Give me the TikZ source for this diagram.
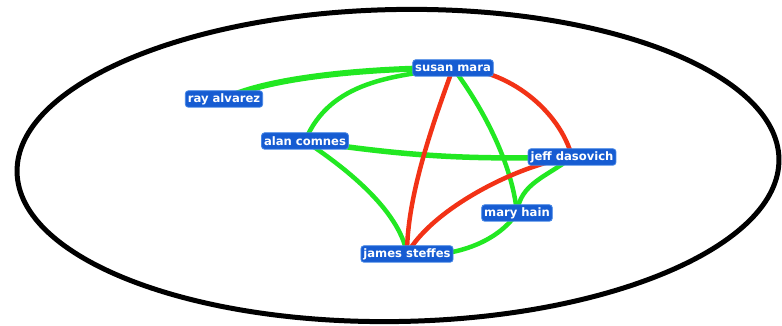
\documentclass[tikz,border=0pt]{standalone}
\usepackage{fontspec}
\newfontfamily\nodefont{DejaVu Sans}
\usetikzlibrary{backgrounds}
\definecolor{nodeblue}{RGB}{22,92,210}
\definecolor{nodeedge}{RGB}{70,135,230}
\definecolor{linkgreen}{RGB}{34,232,34}
\definecolor{linkred}{RGB}{242,50,22}
\tikzset{
  person/.style={fill=nodeblue, draw=nodeedge, line width=0.8pt, rounded corners=3pt,
    text=white, font=\nodefont\bfseries\fontsize{11.6}{13}\selectfont,
    inner xsep=2.5pt, inner ysep=1pt, minimum height=16.5pt},
  glink/.style={draw=linkgreen, line width=4.5pt},
  rlink/.style={draw=linkred, line width=4.5pt},
  boundary/.style={draw=black, line width=5pt}
}
\begin{document}
\begin{tikzpicture}[x=1pt,y=1pt]
\useasboundingbox (0,0) rectangle (782,326);
\draw[boundary] (398,160.5) ellipse [x radius=381, y radius=156, rotate=1];
\node[person] (susan) at (453,258) {susan mara};
\node[person] (ray) at (224,227) {ray alvarez};
\node[person] (alan) at (305,185) {alan comnes};
\node[person] (jeff) at (572,169) {jeff dasovich};
\node[person] (mary) at (517,113) {mary hain};
\node[person] (james) at (407,72) {james steffes};
\begin{pgfonlayer}{background}
\draw[glink, line width=6pt] (ray.center) .. controls +(50,24) and +(-70,0) .. (susan.center);
\draw[glink] (alan.center) .. controls +(25,60) and +(-60,-8) .. (susan.center);
\draw[glink, line width=5.5pt] (alan.center) to[bend right=5] (jeff.center);
\draw[glink] (alan.center) .. controls +(38,-25) and +(-8,45) .. (james.center);
\draw[rlink] (susan.center) .. controls +(-18,-50) and +(0,60) .. (james.center);
\draw[rlink] (susan.center) .. controls +(55,0) and +(-12,46) .. (jeff.center);
\draw[glink] (susan.center) .. controls +(30,-40) and +(-5,50) .. (mary.center);
\draw[rlink] (jeff.center) .. controls +(-55,-8) and +(25,45) .. (james.center);
\draw[glink] (jeff.center) .. controls +(-25,-20) and +(3,30) .. (mary.center);
\draw[glink] (mary.center) .. controls +(-20,-30) and +(45,-5) .. (james.center);
\end{pgfonlayer}
\end{tikzpicture}
\end{document}
